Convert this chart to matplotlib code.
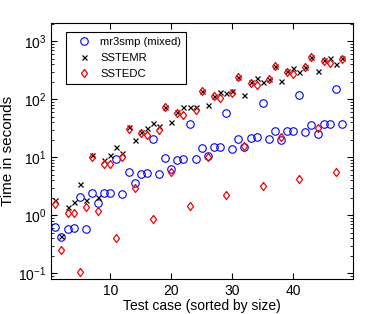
import numpy as np
import matplotlib
matplotlib.use("Agg")
import matplotlib.pyplot as plt

plt.rcParams['font.family'] = ['Liberation Sans', 'DejaVu Sans']

test_case = list(range(1, 49))

mr3smp = [0.63, 0.42, 0.58, 0.6, 2.1, 0.57, 2.4, 1.6, 2.4, 2.4,
          9.2, 2.3, 5.5, 3.6, 5.2, 5.3, 21, 5.1, 9.6, 6.3,
          9.1, 9.4, 38, 9.2, 14.5, 10.5, 15, 15, 58, 14,
          20.5, 14.7, 21.5, 22, 85, 20.4, 28, 19.6, 28, 28,
          117, 27.5, 36, 25.5, 38, 38, 152, 38]

sstemr = [1.8, 0.43, 1.37, 1.7, 3.4, 1.8, 11, 2.1, 8.9, 10.8,
          15, 11.8, 33, 19.6, 27, 32, 39, 35, 74, 40,
          60, 72, 74, 72, 136, 80, 114, 134, 127, 141,
          240, 120, 200, 228, 200, 225, 370, 202, 310, 342,
          295, 360, 535, 305, 480, 510, 400, 515]

sstedc = [1.55, 0.25, 1.1, 1.08, 0.105, 1.37, 10, 1.2, 7.6, 7.6,
          0.4, 10, 31, 2.9, 26, 24, 0.86, 29, 74, 5.6,
          58, 54, 1.43, 66, 138, 10, 112, 103, 2.2, 126,
          240, 15.5, 192, 178, 3.2, 222, 370, 22.5, 300, 277,
          4.2, 360, 535, 32, 450, 415, 5.5, 500]

# matlab-style diamond, a bit taller than wide
diamond = [(0, 1), (0.75, 0), (0, -1), (-0.75, 0), (0, 1)]

fig = plt.figure(figsize=(3.9, 3.14), dpi=100)
ax = fig.add_axes([0.131, 0.111, 0.774, 0.815])

ax.plot(test_case, mr3smp, 'o', mfc='none', mec='#0000ff', ms=5.4, mew=0.8,
        label='mr3smp (mixed)')
ax.plot(test_case, sstemr, 'x', color='black', ms=3.6, mew=0.9, label='SSTEMR')
ax.plot(test_case, sstedc, marker=diamond, ls='none', mfc='none', mec='#ff0000',
        ms=5.8, mew=0.9, label='SSTEDC')

ax.set_yscale('log')
ax.set_ylim(0.079, 2040)
ax.set_xlim(0.3, 49.8)
ax.set_xticks([10, 20, 30, 40])
ax.set_yticks([0.1, 1, 10, 100, 1000])

ax.tick_params(which='both', direction='in', top=True, right=True, labelsize=10)
ax.tick_params(which='major', length=4)
ax.tick_params(which='minor', length=2)
for s in ax.spines.values():
    s.set_linewidth(0.8)

ax.set_xlabel('Test case (sorted by size)', fontsize=10, labelpad=1)
ax.set_ylabel('Time in seconds', fontsize=11, labelpad=2)

leg = ax.legend(loc='upper left', bbox_to_anchor=(0.05, 0.965), fontsize=8.1,
                fancybox=False, framealpha=1, edgecolor='black',
                handlelength=2.3, handletextpad=0.27, borderpad=0.45,
                labelspacing=0.54, borderaxespad=0)
leg.get_frame().set_linewidth(0.8)

fig.savefig('out.png', dpi=100)
